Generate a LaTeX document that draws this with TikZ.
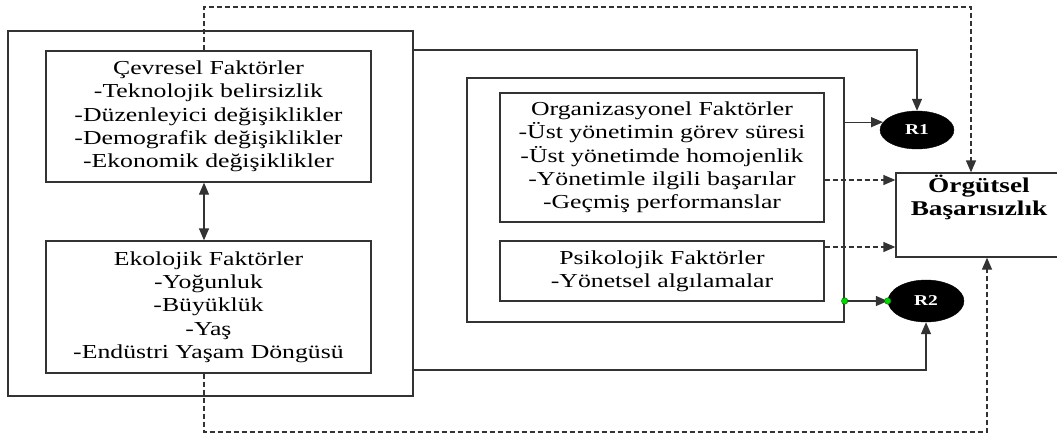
\documentclass[tikz,border=0pt]{standalone}
\usepackage{fontspec}
\setmainfont{Liberation Serif}[FakeStretch=1.3]
\usetikzlibrary{arrows.meta,calc,shapes.geometric}
\begin{document}
\begin{tikzpicture}[x=1pt,y=-1pt,
  box/.style={draw=black!80, line width=1.3pt, inner sep=0pt, align=center,
    font=\fontsize{19.8}{23.3}\selectfont, text=black},
  conn/.style={draw=black!80, line width=1.3pt},
  arr/.style={conn, -{Triangle[length=12pt,width=10pt]}},
  darr/.style={arr, dash pattern=on 5pt off 3pt},
  rnode/.style={ellipse, fill=black, draw=black, inner sep=0pt, text=white,
    font=\fontsize{15}{17}\selectfont\bfseries},
  gdot/.style={circle, fill=green!85!black, draw=green!40!black, line width=0.4pt,
    inner sep=0pt, minimum size=6.5pt}]
\useasboundingbox (0,0) rectangle (1057,434);
\clip (0,0) rectangle (1057,434);

% boxes
\node[box, minimum width=405pt, minimum height=365pt] (outerL) at (210.5,213.5) {};
\node[box, minimum width=325pt, minimum height=131pt] (cev) at (208.5,116.5)
  {Çevresel Faktörler\\-Teknolojik belirsizlik\\-Düzenleyici değişiklikler\\-Demografik değişiklikler\\-Ekonomik değişiklikler};
\node[box, minimum width=325pt, minimum height=132pt] (eko) at (208.5,307)
  {Ekolojik Faktörler\\-Yoğunluk\\-Büyüklük\\-Yaş\\-Endüstri Yaşam Döngüsü};
\node[box, minimum width=377pt, minimum height=244pt] (mid) at (655.5,200) {};
\node[box, minimum width=324pt, minimum height=129pt] (org) at (662,157.5)
  {Organizasyonel Faktörler\\-Üst yönetimin görev süresi\\-Üst yönetimde homojenlik\\-Yönetimle ilgili başarılar\\-Geçmiş performanslar};
\node[box, minimum width=324pt, minimum height=60pt] (psi) at (662,271)
  {Psikolojik Faktörler\\-Yönetsel algılamalar};
\node[box, minimum width=176pt, minimum height=84pt] (out) at (984,215) {};
\node[align=center, inner sep=0pt, font=\fontsize{21}{23.3}\selectfont\bfseries] (outtxt) at (979,197.5)
  {Örgütsel\\Başarısızlık};

\node[rnode, minimum width=74pt, minimum height=38pt] (R1) at (917,130) {R1};
\node[rnode, minimum width=76pt, minimum height=42pt] (R2) at (926,301) {R2};

% connectors
\draw[conn, {Triangle[length=12pt,width=10pt]}-{Triangle[length=12pt,width=10pt]}]
  ([xshift=-4.5pt]cev.south) -- ([xshift=-4.5pt]eko.north);

\coordinate (tR) at (971,7);
\draw[darr] ([xshift=-4.5pt]cev.north) |- (tR) -- (tR |- out.north);
\coordinate (bR) at (987,432);
\draw[darr] ([xshift=-4.5pt]eko.south) |- (bR) -- (bR |- out.south);

\draw[arr] (outerL.east |- 0,50) -| (R1.north);
\draw[arr] (outerL.east |- 0,370) -| (R2.south);

\draw[arr] (mid.east |- R1.167) -- (R1.167);
\draw[darr] (org.east |- 0,180) -- (out.west |- 0,180);
\draw[darr] (psi.east |- 0,247) -- (out.west |- 0,247);

\draw[arr] (mid.east |- R2.west) -- (R2.west);
\node[gdot] (g1) at (mid.east |- R2.west) {};
\node[gdot] (g2) at (R2.west) {};
\end{tikzpicture}
\end{document}
